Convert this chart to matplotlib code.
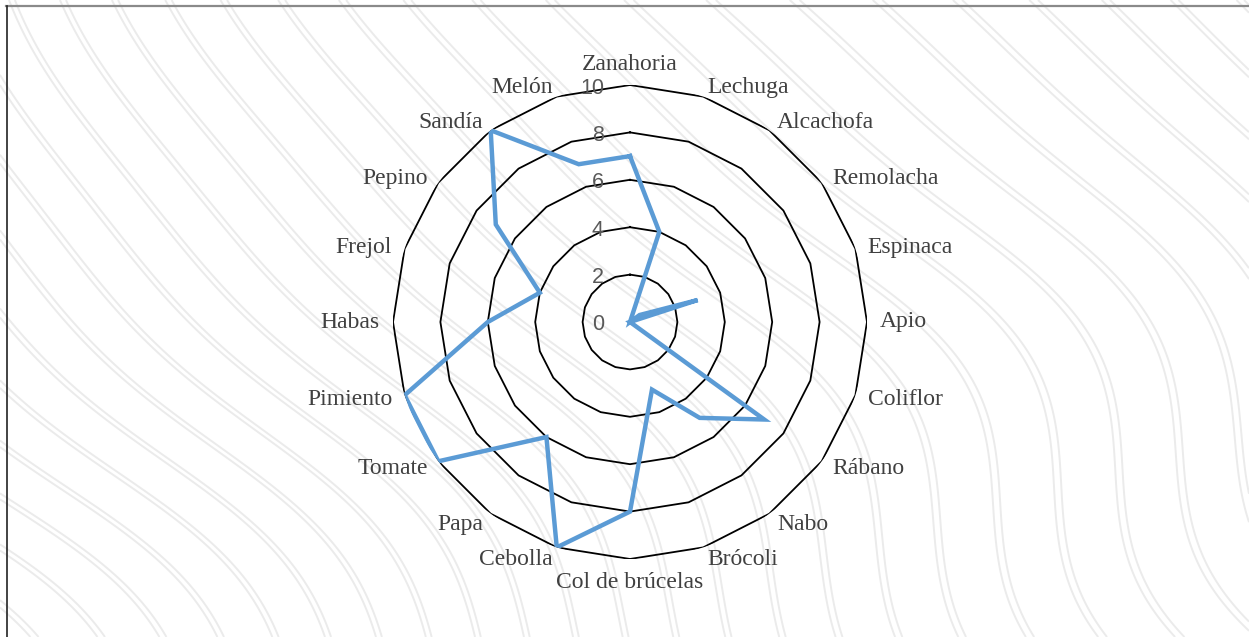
import numpy as np
import matplotlib
matplotlib.use("Agg")
import matplotlib.pyplot as plt
from matplotlib.transforms import offset_copy

categories = ["Zanahoria", "Lechuga", "Alcachofa", "Remolacha", "Espinaca", "Apio",
              "Coliflor", "Rábano", "Nabo", "Brócoli", "Col de brúcelas", "Cebolla",
              "Papa", "Tomate", "Pimiento", "Habas", "Frejol", "Pepino", "Sandía", "Melón"]
values = [7, 4, 0, 0.5, 3, 0, 0, 7, 5, 3, 8, 10, 6, 10, 10, 6, 4, 7, 10, 7]
ring_values = [2, 4, 6, 8, 10]
tick_labels = ["0", "2", "4", "6", "8", "10"]
tick_positions = [0, 2, 4, 6, 8, 10]

W, H = 1249, 637
fig = plt.figure(figsize=(W / 100, H / 100), dpi=100)

# decorative faint topographic background (texture only)
bg = fig.add_axes([0, 0, 1, 1])
bg.set_xlim(0, W)
bg.set_ylim(H, 0)
bg.axis("off")
gx, gy = np.meshgrid(np.linspace(0, W, 500), np.linspace(0, H, 260))
field = (1.3 * gx - gy
         + 70 * np.sin(gy / 140.0 + gx / 380.0)
         + 45 * np.sin(gx / 230.0 - gy / 320.0)
         + 20 * np.cos(gy / 70.0 + gx / 260.0))
base = np.arange(-900, 2000, 85)
levels = np.sort(np.concatenate([base, base + 10]))
bg.contour(gx, gy, field, levels=levels, colors="#ebebeb", linewidths=1.4,
           linestyles="solid", zorder=0)
# frame edges (top and left)
bg.plot([6, W], [6, 6], color="#8a8a8a", lw=1.6, zorder=1)
bg.plot([7, 7], [6, H], color="#222222", lw=1.2, zorder=1)

cx, cy, R = 630, 322, 237
ax = fig.add_axes([(cx - R) / W, (H - cy - R) / H, 2 * R / W, 2 * R / H],
                  projection="polar")
ax.set_theta_zero_location("N")
ax.set_theta_direction(-1)
ax.set_ylim(0, 10)
ax.patch.set_alpha(0)
ax.grid(False)
ax.spines["polar"].set_visible(False)
ax.set_yticks([])
ax.set_xticks([])

n = len(categories)
angles = np.arange(n) * 2 * np.pi / n
closed = np.append(angles, angles[0])

for rv in ring_values:
    ax.plot(closed, [rv] * (n + 1), color="black", lw=1.3, zorder=2)

vals_closed = values + [values[0]]
ax.plot(closed, vals_closed, color="#5B9BD5", lw=3.2, zorder=3,
        solid_joinstyle="miter")

# radial tick labels
tr = offset_copy(ax.transData, fig=fig, x=-26, y=-3, units="dots")
for pos, lab in zip(tick_positions, tick_labels):
    ax.text(0, pos, lab, transform=tr, ha="right", va="center",
            fontsize=15.5, color="#595959", family="Liberation Sans", zorder=4)

# category labels
for ang, lab in zip(angles, categories):
    s = np.sin(ang)
    c = np.cos(ang)
    if abs(s) < 0.05:
        ha = "center"
    elif s > 0:
        ha = "left"
    else:
        ha = "right"
    va = "center"
    if c > 0.99:
        va = "bottom"
    elif c < -0.99:
        va = "top"
    dy = -3 if (c > 0.3) else 0
    t = offset_copy(ax.transData, fig=fig, x=0, y=dy, units="dots")
    ax.text(ang, 10.55, lab, transform=t, ha=ha, va=va, fontsize=17,
            color="#404040", family="Liberation Serif", zorder=4)

fig.savefig("out.png", dpi=100)
